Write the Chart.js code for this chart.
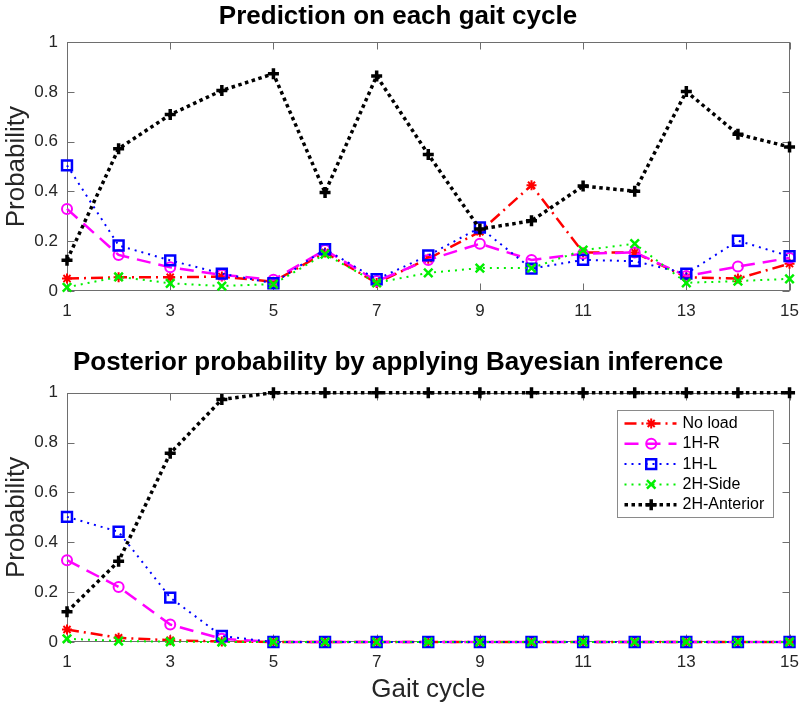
<!DOCTYPE html>
<html>
<head>
<meta charset="utf-8">
<script src="https://cdn.jsdelivr.net/npm/chart.js@4.4.1/dist/chart.umd.min.js"></script>
<style>
html, body { margin: 0; padding: 0; background: #fff; }
#wrap { position: relative; width: 809px; height: 707px; }
canvas { position: absolute; left: 0; }
</style>
</head>
<body>
<div id="wrap">
  <canvas id="topChart" width="809" height="340" style="top:0px"></canvas>
  <canvas id="bottomChart" width="809" height="367" style="top:340px"></canvas>
</div>
<script>
// x axis: gait cycles
var cycles = [1, 2, 3, 4, 5, 6, 7, 8, 9, 10, 11, 12, 13, 14, 15];
var xTicks = [1, 3, 5, 7, 9, 11, 13, 15];
var yTicks = [0, 0.2, 0.4, 0.6, 0.8, 1];
var seriesNames = ['No load', '1H-R', '1H-L', '2H-Side', '2H-Anterior'];

// Prediction on each gait cycle
var predNoLoad   = [0.050, 0.055, 0.055, 0.058, 0.037, 0.155, 0.032, 0.130, 0.238, 0.425, 0.155, 0.155, 0.055, 0.050, 0.110];
var pred1HR      = [0.330, 0.145, 0.095, 0.065, 0.045, 0.165, 0.040, 0.125, 0.190, 0.125, 0.150, 0.155, 0.060, 0.098, 0.133];
var pred1HL      = [0.505, 0.183, 0.123, 0.070, 0.031, 0.168, 0.047, 0.143, 0.255, 0.090, 0.125, 0.120, 0.070, 0.202, 0.140];
var pred2HSide   = [0.015, 0.057, 0.031, 0.020, 0.028, 0.148, 0.033, 0.073, 0.092, 0.092, 0.164, 0.190, 0.033, 0.040, 0.049];
var pred2HAnt    = [0.124, 0.572, 0.709, 0.806, 0.873, 0.396, 0.864, 0.549, 0.249, 0.282, 0.422, 0.401, 0.802, 0.630, 0.579];

// Posterior probability (Bayesian inference)
var postNoLoad   = [0.050, 0.017, 0.007, 0.002, 0, 0, 0, 0, 0, 0, 0, 0, 0, 0, 0];
var post1HR      = [0.328, 0.221, 0.070, 0.013, 0, 0, 0, 0, 0, 0, 0, 0, 0, 0, 0];
var post1HL      = [0.502, 0.442, 0.178, 0.024, 0, 0, 0, 0, 0, 0, 0, 0, 0, 0, 0];
var post2HSide   = [0.013, 0.004, 0.001, 0, 0, 0, 0, 0, 0, 0, 0, 0, 0, 0, 0];
var post2HAnt    = [0.121, 0.324, 0.757, 0.973, 1, 1, 1, 1, 1, 1, 1, 1, 1, 1, 1];

var fontFam = '"Liberation Sans", Arial, Helvetica, sans-serif';
var axisColor = '#6e6e6e';
var textColor = '#262626';
Chart.defaults.font.family = fontFam;

// line / marker style for each series (matlab-ish)
var styles = [
    { color: '#ff0000', dash: [12, 5, 2, 5], width: 2.5, point: 'star',     radius: 5, pw: 2 },
    { color: '#ff00ff', dash: [14, 8],       width: 2.5, point: 'circle',   radius: 5, pw: 2 },
    { color: '#0000ff', dash: [2, 5],        width: 2,   point: 'rect',     radius: 7, pw: 2.5 },
    { color: '#00f000', dash: [2, 5],        width: 2,   point: 'crossRot', radius: 6, pw: 2.5 },
    { color: '#000000', dash: [3.5, 3.5],    width: 3.5, point: 'cross',    radius: 5.5, pw: 3.5 }
];

function makeSets(valueLists) {
    return valueLists.map(function (vals, i) {
        var s = styles[i];
        return {
            label: seriesNames[i],
            data: cycles.map(function (c, k) { return { x: c, y: vals[k] }; }),
            borderColor: s.color,
            borderWidth: s.width,
            borderDash: s.dash,
            pointStyle: s.point,
            pointRadius: s.radius,
            pointBorderWidth: s.pw,
            pointBorderColor: s.color,
            pointBackgroundColor: 'rgba(0,0,0,0)',
            tension: 0,
            clip: false,
            order: 5 - i
        };
    });
}

// box + inward ticks like matlab axes
var boxPlugin = {
    id: 'matlabBox',
    beforeDatasetsDraw: function (chart) {
        var a = chart.chartArea, ctx = chart.ctx;
        var l = Math.round(a.left) + 0.5, r = Math.round(a.right) - 0.5;
        var t = Math.round(a.top) + 0.5, b = Math.round(a.bottom) - 0.5;
        ctx.save();
        ctx.strokeStyle = axisColor;
        ctx.lineWidth = 1;
        ctx.setLineDash([]);
        ctx.strokeRect(l, t, r - l, b - t);
        ctx.beginPath();
        chart.scales.x.ticks.forEach(function (tk) {
            var px = Math.round(chart.scales.x.getPixelForValue(tk.value)) + 0.5;
            ctx.moveTo(px, b); ctx.lineTo(px, b - 7);
            ctx.moveTo(px, t); ctx.lineTo(px, t + 7);
        });
        chart.scales.y.ticks.forEach(function (tk) {
            var py = Math.round(chart.scales.y.getPixelForValue(tk.value)) + 0.5;
            ctx.moveTo(l, py); ctx.lineTo(l + 7, py);
            ctx.moveTo(r, py); ctx.lineTo(r - 7, py);
        });
        ctx.stroke();
        ctx.restore();
    }
};

// legend with line samples, drawn in the bottom chart
var legendPlugin = {
    id: 'lineLegend',
    afterDraw: function (chart) {
        var a = chart.chartArea, ctx = chart.ctx;
        var w = 156, h = 107;
        var left = Math.round(a.right - 17 - w) + 0.5, top = Math.round(a.top + 17) + 0.5;
        ctx.save();
        ctx.fillStyle = '#fff';
        ctx.fillRect(left, top, w, h);
        ctx.strokeStyle = '#8a8a8a';
        ctx.lineWidth = 1;
        ctx.setLineDash([]);
        ctx.strokeRect(left, top, w, h);
        ctx.font = '16px ' + fontFam;
        ctx.textBaseline = 'middle';
        styles.forEach(function (s, i) {
            var y = top + 13 + i * 20.3;
            ctx.strokeStyle = s.color;
            ctx.lineWidth = s.width;
            ctx.setLineDash(s.dash);
            ctx.beginPath();
            ctx.moveTo(left + 7, y);
            ctx.lineTo(left + 59, y);
            ctx.stroke();
            ctx.setLineDash([]);
            ctx.lineWidth = s.pw;
            ctx.fillStyle = 'rgba(0,0,0,0)';
            Chart.helpers.drawPoint(ctx, { pointStyle: s.point, radius: s.radius, rotation: 0, borderWidth: s.pw }, left + 33.7, y);
            ctx.fillStyle = '#000';
            ctx.fillText(seriesNames[i], left + 65, y);
        });
        ctx.restore();
    }
};

function buildOptions(titleText, titlePad, xHeight, showXTitle) {
    return {
        responsive: false,
        animation: false,
        devicePixelRatio: 1,
        layout: { padding: { left: 0, right: 13, top: 0, bottom: 0 } },
        plugins: {
            legend: { display: false },
            tooltip: { enabled: false },
            title: {
                display: true,
                text: titleText,
                color: '#000',
                font: { size: 26, weight: 'bold' },
                padding: titlePad
            }
        },
        scales: {
            x: {
                type: 'linear',
                min: 1,
                max: 15,
                grid: { display: false, drawTicks: false },
                border: { display: false },
                afterBuildTicks: function (s) { s.ticks = xTicks.map(function (v) { return { value: v }; }); },
                afterFit: function (s) { s.height = xHeight; },
                ticks: { color: textColor, font: { size: 17 }, padding: 10, maxRotation: 0 },
                title: {
                    display: showXTitle,
                    text: 'Gait cycle',
                    color: textColor,
                    font: { size: 26 },
                    padding: { top: 0, bottom: 2 }
                }
            },
            y: {
                min: 0,
                max: 1,
                grid: { display: false, drawTicks: false },
                border: { display: false },
                afterBuildTicks: function (s) { s.ticks = yTicks.map(function (v) { return { value: v }; }); },
                afterFit: function (s) { s.width = 67; },
                ticks: {
                    color: textColor,
                    font: { size: 17 },
                    padding: 9,
                    callback: function (v) { return String(v); }
                },
                title: {
                    display: true,
                    text: 'Probability',
                    color: textColor,
                    font: { size: 26 },
                    padding: { top: 1, bottom: 0 }
                }
            }
        }
    };
}

var topCtx = document.getElementById('topChart').getContext('2d');
new Chart(topCtx, {
    type: 'line',
    data: { datasets: makeSets([predNoLoad, pred1HR, pred1HL, pred2HSide, pred2HAnt]) },
    options: buildOptions('Prediction on each gait cycle', { top: 1, bottom: 10 }, 49, false),
    plugins: [boxPlugin]
});

var botCtx = document.getElementById('bottomChart').getContext('2d');
new Chart(botCtx, {
    type: 'line',
    data: { datasets: makeSets([postNoLoad, post1HR, post1HL, post2HSide, post2HAnt]) },
    options: buildOptions('Posterior probability by applying Bayesian inference', { top: 7, bottom: 14.5 }, 65, true),
    plugins: [boxPlugin, legendPlugin]
});
</script>
</body>
</html>
